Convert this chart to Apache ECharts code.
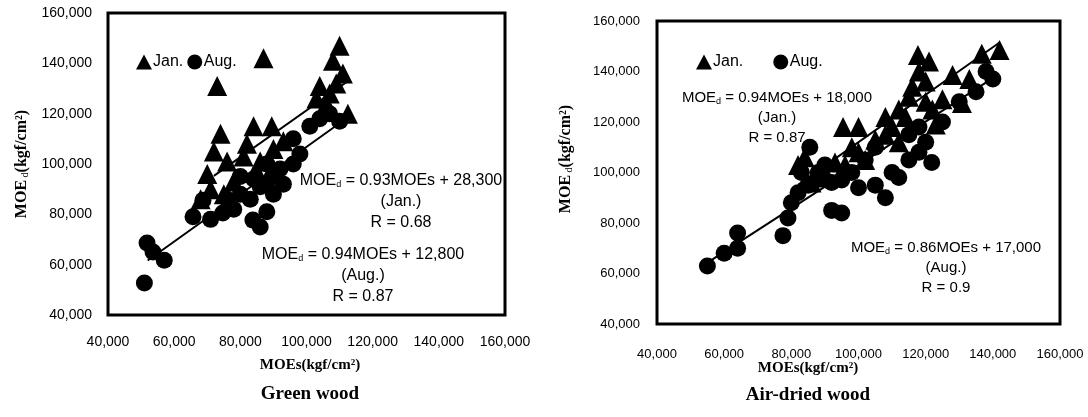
<!DOCTYPE html>
<html>
<head>
<meta charset="utf-8">
<script src="https://cdn.jsdelivr.net/npm/echarts@6/dist/echarts.min.js"></script>
<style>
  html, body { margin: 0; padding: 0; background: #fff; }
  #chart { width: 1088px; height: 417px; }
</style>
</head>
<body>
<div id="chart"></div>
<script>
// values in 1,000 kgf/cm2 : [MOEs, MOEd]
const greenJan = [
  [87, 142], [73, 131], [110, 147], [108, 141], [111, 136], [104, 131], [107, 128], [103, 126],
  [109, 132], [106, 124], [112.5, 120], [74, 112], [72, 105], [76, 101], [84, 115], [89.5, 115],
  [81, 103], [70, 96], [71, 90], [68, 86], [78, 93], [86, 101], [90, 106], [93, 109], [85, 97],
  [88, 94], [82, 108], [75, 88]
]
const greenAug = [
  [51.8, 68.6], [53.6, 65], [57, 61.8], [51, 52.7], [65.7, 79], [68.7, 85.6], [71, 78], [74.7, 80.5],
  [78, 82], [83.8, 77.7], [88, 81], [86, 75], [80, 88], [83, 86], [86, 91], [90, 95], [93, 92],
  [96, 100], [98, 104], [96, 110], [92, 98], [88, 100], [84, 94], [80, 95], [90, 88], [76, 86],
  [104, 118], [107, 120], [110, 117], [101, 115]
]
const airJan = [
  [82, 103], [84, 106], [88, 98], [90, 100], [93, 104], [95.4, 118], [98, 110], [100, 108], [102, 105],
  [105, 113], [108, 115], [110, 118], [112, 125], [115, 130], [117.7, 146.5], [121, 144], [116, 134],
  [120, 128], [122, 125], [120, 136], [125, 129], [128, 138.6], [130.8, 127.5], [123, 119],
  [136.7, 147], [142, 148.5], [133, 137], [100, 118], [108, 122], [112, 112], [96, 103], [86, 96],
  [118, 140], [114, 122]
]
const airAug = [
  [55, 63], [60, 68], [64, 70], [64, 76], [77.5, 75], [79, 82], [80, 88], [82, 92], [85, 95],
  [85.5, 110], [88, 100], [92, 85], [95, 84], [92, 96], [98, 100], [100, 94], [105, 95], [108, 90],
  [110, 100], [115, 105], [112, 98], [118, 108], [120, 112], [121.8, 104], [125, 120], [130, 128],
  [135, 132], [140, 137], [138, 140], [102, 105], [105, 110], [95, 97], [90, 103], [115, 115],
  [118, 118], [83, 100]
]

// regression: [slope, intercept(thousand), xFrom, xTo]
const fitGreenJan = [0.93, 28.3, 72, 113]
const fitGreenAug = [0.94, 12.8, 52, 112]
const fitAirJan = [0.94, 18.0, 82, 142]
const fitAirAug = [0.86, 17.0, 54, 140]

const seasons = ['Jan.', 'Aug.']
const axisMin = 40
const axisMax = 160
const axisStep = 20

const fitLine = (f) => [[f[2], f[0] * f[2] + f[1]], [f[3], f[0] * f[3] + f[1]]]

const chartDom = document.getElementById('chart')
const myChart = echarts.init(chartDom)

const valueAxis = (gridIndex, size, margin) => ({
  type: 'value',
  gridIndex,
  min: axisMin,
  max: axisMax,
  interval: axisStep,
  axisLine: { show: false },
  axisTick: { show: false },
  splitLine: { show: false },
  axisLabel: {
    color: '#000',
    fontFamily: 'Liberation Sans',
    fontSize: size,
    margin,
    formatter: (v) => v + ',000',
  },
})

const scatter = (name, symbol, size, idx, data) => ({
  name,
  type: 'scatter',
  symbol,
  symbolSize: size,
  xAxisIndex: idx,
  yAxisIndex: idx,
  itemStyle: { color: '#000', opacity: 1 },
  data,
})

const line = (idx, f) => ({
  type: 'line',
  xAxisIndex: idx,
  yAxisIndex: idx,
  symbol: 'none',
  lineStyle: { color: '#000', width: 2 },
  z: 1,
  data: fitLine(f),
})

const note = (x, y, size, lines) => ({
  type: 'text',
  x,
  y,
  style: {
    text: lines.join('\n'),
    fill: '#000',
    font: size + 'px "Liberation Sans"',
    align: 'center',
    verticalAlign: 'top',
    lineHeight: size + 5,
    rich: {
      s: { fontSize: 9, fontFamily: 'Liberation Sans', padding: [8, 0, 0, 0] },
    },
  },
})

const yName = (x, y) => ({
  type: 'text',
  x,
  y,
  rotation: Math.PI / 2,
  style: {
    text: '{b|MOE}{s| d}{b|(kgf/cm²)}',
    fill: '#000',
    align: 'center',
    verticalAlign: 'middle',
    rich: {
      b: { fontFamily: 'Liberation Serif', fontWeight: 'bold', fontSize: 16 },
      s: { fontFamily: 'Liberation Serif', fontSize: 10, padding: [6, 0, 0, 0] },
    },
  },
})

const label = (x, y, text, size) => ({
  type: 'text',
  x,
  y,
  style: {
    text,
    fill: '#000',
    font: 'bold ' + size + 'px "Liberation Serif"',
    align: 'center',
    verticalAlign: 'middle',
  },
})

const option = {
  animation: false,
  grid: [
    { left: 108, top: 13, width: 397, height: 302, show: true, borderColor: '#000', borderWidth: 3 },
    { left: 657, top: 21, width: 403, height: 303, show: true, borderColor: '#000', borderWidth: 3 },
  ],
  xAxis: [valueAxis(0, 14, 20), valueAxis(1, 13, 24)],
  yAxis: [valueAxis(0, 14, 16), valueAxis(1, 13, 17)],
  legend: [
    {
      data: seasons,
      left: 131,
      top: 49,
      itemWidth: 16,
      itemHeight: 15,
      itemGap: 4,
      textStyle: { fontFamily: 'Liberation Sans', fontSize: 16, color: '#000', padding: [0, 0, 0, -4] },
    },
    {
      data: seasons,
      left: 691,
      top: 49,
      itemWidth: 16,
      itemHeight: 15,
      itemGap: 30,
      textStyle: { fontFamily: 'Liberation Sans', fontSize: 16, color: '#000', padding: [0, 0, 0, -4] },
    },
  ],
  graphic: [
    note(401, 170, 16, ['MOE{s|d} = 0.93MOEs + 28,300', '(Jan.)', 'R = 0.68']),
    note(363, 244, 16, ['MOE{s|d} = 0.94MOEs + 12,800', '(Aug.)', 'R = 0.87']),
    note(777, 88, 15, ['MOE{s|d} = 0.94MOEs + 18,000', '(Jan.)', 'R = 0.87']),
    note(946, 238, 15, ['MOE{s|d} = 0.86MOEs + 17,000', '(Aug.)', 'R = 0.9']),
    yName(22, 164),
    yName(566, 159),
    label(310, 365, 'MOEs(kgf/cm²)', 15),
    label(310, 394, 'Green wood', 19),
    label(808, 368, 'MOEs(kgf/cm²)', 15),
    label(808, 395, 'Air-dried wood', 19),
  ],
  series: [
    line(0, fitGreenJan),
    line(0, fitGreenAug),
    line(1, fitAirJan),
    line(1, fitAirAug),
    scatter('Jan.', 'triangle', 20, 0, greenJan),
    scatter('Aug.', 'circle', 17, 0, greenAug),
    scatter('Jan.', 'triangle', 20, 1, airJan),
    scatter('Aug.', 'circle', 17, 1, airAug),
  ],
}
option && myChart.setOption(option)
</script>
</body>
</html>
